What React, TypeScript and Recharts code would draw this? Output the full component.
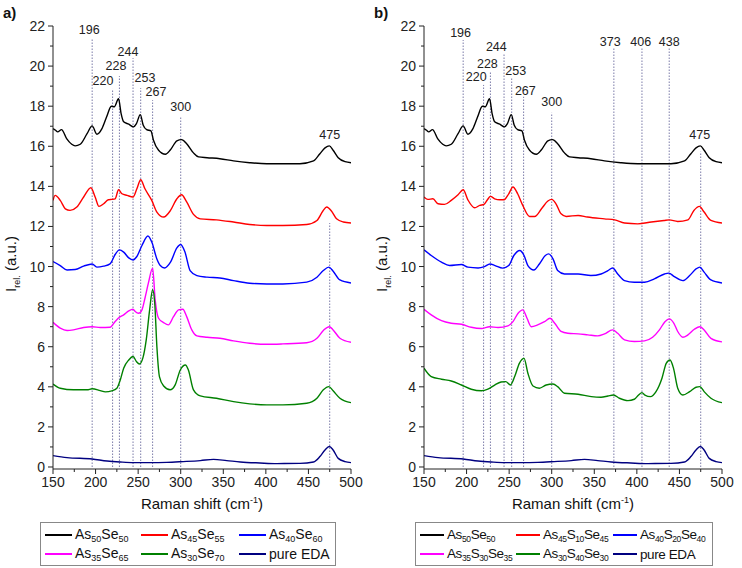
import React from "react";
import { LineChart, Line, XAxis, YAxis, ReferenceLine } from "recharts";

const FONT = '"Liberation Sans", Arial, sans-serif';
const DOT_COLOR = "#7a7aa8";

type Pt = [number, number];

// spectra: [Raman shift (cm-1), I_rel (a.u.)]
const as50se50: Pt[] = [
  [150, 16.88], [153, 16.8], [155.5, 16.72], [160, 16.83], [166, 16.38], [172, 16.1], [176, 16.02], [182, 16.1],
  [190, 16.63], [196, 17.02], [201.5, 16.6], [207.5, 16.88], [213, 17.47], [218.5, 18.0], [222, 17.97], [227, 18.37],
  [230, 17.63], [233, 17.22], [239, 17.1], [244.5, 16.97], [248, 17.13], [252.5, 17.58], [256, 17.05], [260, 16.83],
  [265, 16.77], [268, 16.3], [274, 15.8], [282, 15.6], [288, 15.83], [295.5, 16.27], [301, 16.33], [307, 16.13],
  [315, 15.67], [321, 15.47], [331, 15.43], [346, 15.38], [362, 15.27], [381, 15.18], [401, 15.13], [420, 15.13],
  [440, 15.13], [456, 15.27], [463.5, 15.63], [469.5, 15.92], [474.5, 16.02], [479, 15.8], [485, 15.43], [493, 15.23],
  [500, 15.18],
];

const as45se55: Pt[] = [
  [150, 13.3], [152.5, 13.55], [158.5, 13.3], [164.5, 12.88], [170, 12.8], [178, 12.97], [186, 13.47], [194.5, 13.93],
  [199.5, 13.47], [204, 13.0], [209.5, 13.13], [215, 13.33], [219, 13.35], [223, 13.38], [227, 13.83], [231, 13.63],
  [237, 13.55], [244, 13.47], [248.5, 13.88], [253, 14.33], [258, 13.88], [266, 13.3], [272, 12.72], [280, 12.47],
  [288, 12.8], [295.5, 13.38], [301, 13.58], [307, 13.22], [315, 12.6], [323, 12.38], [342, 12.33], [362, 12.22],
  [381, 12.1], [401, 12.05], [420, 12.05], [448, 12.1], [460, 12.3], [467, 12.77], [471.5, 12.97], [477, 12.77],
  [483, 12.38], [491, 12.22], [500, 12.17],
];

const as40se60: Pt[] = [
  [150, 10.25], [158.5, 10.05], [166.5, 9.83], [176, 9.85], [186, 10.02], [196, 10.13], [201.5, 9.97], [209.5, 10.02],
  [217, 10.13], [223, 10.6], [228, 10.83], [233, 10.72], [239, 10.43], [244, 10.33], [248.5, 10.5], [254.5, 11.05],
  [261.5, 11.52], [266, 11.22], [272, 10.38], [276, 10.05], [281, 9.93], [288, 10.22], [295.5, 10.93], [300, 11.1],
  [305, 10.72], [311, 9.8], [319, 9.55], [331, 9.47], [346, 9.43], [362, 9.3], [381, 9.17], [401, 9.13], [420, 9.13],
  [448, 9.22], [460, 9.47], [467.5, 9.8], [474, 9.97], [479, 9.77], [487, 9.33], [500, 9.18],
];

const as35se65: Pt[] = [
  [150, 7.22], [158.5, 6.93], [166.5, 6.81], [174, 6.84], [186, 6.96], [196, 7.0], [205.5, 6.96], [217, 6.97],
  [223, 7.26], [228, 7.47], [233, 7.59], [239, 7.79], [244, 7.87], [246.5, 7.76], [250.5, 7.67], [254.5, 7.84],
  [258, 8.42], [262, 9.17], [267, 9.92], [270, 8.34], [274, 7.42], [280, 7.2], [285.5, 7.09], [291.5, 7.5],
  [297.5, 7.84], [302.5, 7.87], [307, 7.5], [313, 6.84], [319, 6.54], [331, 6.47], [346, 6.42], [362, 6.29],
  [381, 6.17], [401, 6.12], [420, 6.14], [448, 6.2], [460, 6.42], [467.5, 6.81], [474.5, 7.0], [479, 6.84],
  [487, 6.42], [500, 6.22],
];

const as30se70: Pt[] = [
  [150, 4.14], [158.5, 3.93], [174, 3.85], [190, 3.85], [196, 3.9], [205.5, 3.81], [211.5, 3.75], [219, 3.8],
  [225, 3.93], [229, 4.34], [233, 4.93], [239, 5.34], [244, 5.51], [248, 5.26], [251.5, 5.14], [255.5, 5.43],
  [259.5, 6.34], [263.5, 7.84], [267, 8.84], [269.5, 8.17], [272, 6.01], [275, 4.51], [280, 4.04], [287.5, 3.85],
  [293.5, 4.1], [299.5, 4.84], [305.5, 5.09], [309, 4.84], [315, 3.85], [323, 3.55], [342, 3.43], [362, 3.26],
  [381, 3.15], [401, 3.1], [420, 3.1], [448, 3.18], [460, 3.43], [467.5, 3.85], [474, 4.01], [479, 3.8],
  [487, 3.43], [500, 3.21],
];

const pureEda: Pt[] = [
  [150, 0.57], [166.5, 0.47], [196, 0.4], [213.5, 0.3], [229, 0.25], [244.5, 0.22], [264, 0.22], [283.5, 0.23],
  [303, 0.27], [323, 0.32], [338.5, 0.38], [354, 0.32], [370, 0.25], [393, 0.2], [413, 0.17], [440, 0.18],
  [456, 0.25], [463.5, 0.52], [469.5, 0.85], [474.5, 1.02], [479, 0.85], [485, 0.43], [493, 0.27], [500, 0.22],
];

const as45s10se45: Pt[] = [
  [150, 13.47], [154.5, 13.35], [160.5, 13.38], [166.5, 13.13], [174, 13.1], [182, 13.3], [190, 13.58], [196, 13.83],
  [201.5, 13.33], [209.5, 12.93], [215.5, 13.05], [220.5, 13.1], [224.5, 13.33], [228, 13.5], [233, 13.38], [239, 13.33],
  [244, 13.33], [249.5, 13.63], [254.5, 13.97], [260, 13.63], [266, 13.05], [274, 12.5], [280, 12.5], [288, 12.88],
  [295.5, 13.27], [300, 13.35], [305, 13.13], [311, 12.63], [317, 12.5], [331, 12.55], [342, 12.47], [362, 12.38],
  [374, 12.33], [385.5, 12.17], [401, 12.13], [417, 12.22], [432, 12.3], [438, 12.33], [448, 12.25], [460, 12.33],
  [467, 12.8], [473.5, 13.0], [479, 12.72], [487, 12.3], [500, 12.17],
];

const as40s20se40: Pt[] = [
  [150, 10.83], [158.5, 10.55], [170.5, 10.22], [180, 10.05], [194, 10.1], [201.5, 9.97], [213.5, 9.93], [221, 10.0],
  [227.5, 10.13], [233.5, 10.05], [242.5, 9.92], [249.5, 10.05], [255.5, 10.55], [262.5, 10.8], [267.5, 10.55],
  [272, 10.05], [279, 9.83], [285.5, 10.13], [292.5, 10.55], [296.5, 10.63], [301.5, 10.38], [307, 9.8], [315, 9.63],
  [331, 9.63], [346, 9.55], [358, 9.63], [366, 9.8], [371.5, 9.93], [377.5, 9.63], [385.5, 9.3], [397, 9.22],
  [409, 9.22], [420.5, 9.38], [432.5, 9.63], [437.5, 9.67], [444, 9.5], [454, 9.3], [462, 9.55], [469.5, 9.88],
  [474, 9.97], [479, 9.72], [487, 9.33], [500, 9.18],
];

const as35s30se35: Pt[] = [
  [150, 7.87], [158.5, 7.59], [170.5, 7.3], [182, 7.17], [194, 7.12], [205.5, 6.97], [217.5, 6.91], [227, 7.0],
  [237, 6.96], [248.5, 7.04], [254.5, 7.25], [260.5, 7.67], [266, 7.84], [271, 7.42], [276, 7.0], [283.5, 7.09],
  [291.5, 7.25], [298, 7.42], [303.5, 7.17], [311, 6.76], [319, 6.67], [331, 6.64], [342.5, 6.59], [354, 6.54],
  [362, 6.64], [371.5, 6.84], [377.5, 6.67], [385.5, 6.34], [397, 6.26], [409, 6.29], [418.5, 6.47], [426.5, 6.84],
  [433, 7.25], [438, 7.39], [443.5, 7.17], [448, 6.76], [454, 6.47], [460, 6.59], [467.5, 6.87], [474, 7.0],
  [479, 6.84], [487, 6.42], [500, 6.24],
];

const as30s40se30: Pt[] = [
  [150, 4.93], [158.5, 4.51], [170.5, 4.38], [182, 4.29], [194, 4.09], [205.5, 3.88], [217.5, 3.8], [225, 3.88],
  [233, 4.09], [240.5, 4.24], [246, 4.26], [251.5, 4.09], [256.5, 4.51], [262, 5.17], [267.5, 5.42], [272, 4.68],
  [278, 4.04], [285.5, 3.93], [293.5, 4.09], [301.5, 4.14], [307, 4.01], [315, 3.68], [331, 3.63], [346.5, 3.51],
  [358, 3.48], [366, 3.54], [372.5, 3.59], [379.5, 3.43], [389.5, 3.31], [397, 3.38], [402, 3.59], [406, 3.71],
  [409.5, 3.59], [416, 3.51], [422.5, 3.76], [429.5, 4.43], [434.5, 5.17], [439, 5.34], [443, 4.93], [448, 3.93],
  [454, 3.59], [462, 3.76], [469.5, 3.98], [474, 4.01], [479, 3.76], [487, 3.43], [500, 3.21],
];

const xTicks = [150, 175, 200, 225, 250, 275, 300, 325, 350, 375, 400, 425, 450, 475, 500];
const yTicks = [0, 1, 2, 3, 4, 5, 6, 7, 8, 9, 10, 11, 12, 13, 14, 15, 16, 17, 18, 19, 20, 21, 22];

// peak markers: position, top of dotted line (a.u.), label offset in px from the line top
const peaksA = [196, 220, 228, 244, 253, 267, 300, 475];
const topsA = [21.35, 18.86, 19.5, 20.4, 18.9, 18.3, 17.5, 12.17];
const dxA = [-3, -9.6, -3.4, -5, 4.3, 3.4, 0, 0];
const dyA = [-5.5, -3.5, -6.5, -2.5, -6.5, -4.5, -5.5, -84.5];

const peaksB = [196, 220, 228, 244, 253, 267, 300, 373, 406, 438, 475];
const topsB = [21.3, 19.06, 19.72, 20.65, 19.44, 18.47, 17.67, 20.89, 20.89, 20.89, 15.73];
const dxB = [-2.6, -7.3, -3, -7.7, 4, 1.7, 0, -3.6, -1.3, 0, -1];
const dyB = [-3.5, -3.5, -3.9, -2.5, -2.8, -2.2, -6.5, -2.1, -2.1, -2.1, -12.9];

const COLORS = ["#000000", "#ff0000", "#0000ff", "#ff00ff", "#008000", "#000080"];

// legend names: pairs of [element, subscript]
const namesA: [string, string][][] = [
  [["As", "50"], ["Se", "50"]],
  [["As", "45"], ["Se", "55"]],
  [["As", "40"], ["Se", "60"]],
  [["As", "35"], ["Se", "65"]],
  [["As", "30"], ["Se", "70"]],
  [["pure EDA", ""]],
];
const namesB: [string, string][][] = [
  [["As", "50"], ["Se", "50"]],
  [["As", "45"], ["S", "10"], ["Se", "45"]],
  [["As", "40"], ["S", "20"], ["Se", "40"]],
  [["As", "35"], ["S", "30"], ["Se", "35"]],
  [["As", "30"], ["S", "40"], ["Se", "30"]],
  [["pure EDA", ""]],
];

const seriesA = [as50se50, as45se55, as40se60, as35se65, as30se70, pureEda];
const seriesB = [as50se50, as45s10se45, as40s20se40, as35s30se35, as30s40se30, pureEda];

const toRows = (pts: Pt[]) => pts.map(([x, y]) => ({ x, y }));

function YTick(props: any) {
  const { x, y, payload } = props;
  const major = payload.value % 2 === 0;
  return (
    <g>
      <line x1={x - (major ? 5 : 3)} x2={x} y1={y} y2={y} stroke="#222" />
      {major && (
        <text x={x - 8} y={y} dy={5} textAnchor="end" fontSize={14} fill="#222" fontFamily={FONT}>
          {payload.value}
        </text>
      )}
    </g>
  );
}

function XTick(props: any) {
  const { x, y, payload } = props;
  const major = payload.value % 50 === 0;
  return (
    <g>
      <line x1={x} x2={x} y1={y} y2={y + (major ? 5 : 3)} stroke="#222" />
      {major && (
        <text x={x} y={y} dy={18} textAnchor="middle" fontSize={14} fill="#222" fontFamily={FONT}>
          {payload.value}
        </text>
      )}
    </g>
  );
}

function peakLabel(text: string, dx: number, dy: number) {
  return (props: any) => {
    const vb = props.viewBox || props;
    return (
      <text x={vb.x + dx} y={vb.y + dy} textAnchor="middle" fontSize={12.5} fill="#222" fontFamily={FONT}>
        {text}
      </text>
    );
  };
}

function Formula({ parts, sub }: { parts: [string, string][]; sub: number }) {
  return (
    <span>
      {parts.map(([el, s], i) => (
        <React.Fragment key={i}>
          {el}
          {s && <sub style={{ fontSize: sub, verticalAlign: "-3px" }}>{s}</sub>}
        </React.Fragment>
      ))}
    </span>
  );
}

function Legend(props: {
  names: [string, string][][]; left: number; width: number; cols: number[]; font: number; sub: number;
  line: number; spacing: number;
}) {
  const { names, left, width, cols, font, sub, line, spacing } = props;
  return (
    <div
      style={{
        position: "absolute", left, top: 522, width, height: 44, border: "1px solid #888",
        boxSizing: "border-box", fontSize: font, color: "#111", letterSpacing: spacing,
      }}
    >
      {names.map((parts, i) => (
        <div
          key={i}
          style={{
            position: "absolute", left: cols[i % 3], top: i < 3 ? 3 : 22, display: "flex",
            alignItems: "center", whiteSpace: "nowrap", height: 18,
          }}
        >
          <span style={{ display: "inline-block", width: line, height: 1.5, background: COLORS[i], marginRight: 3 }} />
          <Formula parts={parts} sub={sub} />
        </div>
      ))}
    </div>
  );
}

function Panel(props: {
  left: number; tag: string; series: Pt[][]; peaks: number[]; tops: number[]; dx: number[]; dy: number[];
  names: [string, string][][]; legendLeft: number; legendWidth: number; cols: number[];
  font: number; sub: number; line: number; spacing: number;
}) {
  const { left, tag, series, peaks, tops, dx, dy } = props;
  return (
    <div style={{ position: "absolute", left, top: 0, width: 371, height: 568 }}>
      <LineChart width={371} height={500} margin={{ top: 26, right: 20, bottom: 6, left: 13 }}>
        <XAxis
          type="number" dataKey="x" domain={[150, 500]} ticks={xTicks} tick={<XTick />} tickLine={false}
          tickSize={0} tickMargin={0} height={25} stroke="#222" allowDataOverflow interval={0}
        />
        <YAxis
          type="number" domain={[-0.1, 22]} ticks={yTicks} tick={<YTick />} tickLine={false}
          tickSize={0} tickMargin={0} width={40} stroke="#222" allowDataOverflow interval={0}
        />
        {peaks.map((p, i) => (
          <ReferenceLine
            key={p}
            segment={[{ x: p, y: 0 }, { x: p, y: tops[i] }]}
            stroke={DOT_COLOR}
            strokeDasharray="1.5 1.5"
            label={peakLabel(String(p), dx[i], dy[i])}
          />
        ))}
        {series.map((s, i) => (
          <Line
            key={i}
            data={toRows(s)}
            dataKey="y"
            type="monotone"
            stroke={COLORS[i]}
            strokeWidth={1.4}
            dot={false}
            isAnimationActive={false}
          />
        ))}
      </LineChart>
      <div style={{ position: "absolute", left: 3, top: 4, fontSize: 15, fontWeight: "bold" }}>{tag}</div>
      <div
        style={{
          position: "absolute", left: 12, top: 264, transform: "translate(-50%, -50%) rotate(-90deg)",
          fontSize: 15, whiteSpace: "nowrap",
        }}
      >
        I<sub style={{ fontSize: 9 }}>rel.</sub> (a.u.)
      </div>
      <div
        style={{
          position: "absolute", left: 202, top: 503, transform: "translate(-50%, -50%)", fontSize: 15,
          whiteSpace: "nowrap",
        }}
      >
        Raman shift (cm<sup style={{ fontSize: 9 }}>-1</sup>)
      </div>
      <Legend
        names={props.names} left={props.legendLeft} width={props.legendWidth} cols={props.cols}
        font={props.font} sub={props.sub} line={props.line} spacing={props.spacing}
      />
    </div>
  );
}

export default function App() {
  return (
    <div
      style={{
        position: "absolute", left: 0, top: 0, width: 742, height: 568, background: "#fff",
        fontFamily: FONT, color: "#111", overflow: "hidden",
      }}
    >
      <Panel
        left={0} tag="a)" series={seriesA} peaks={peaksA} tops={topsA} dx={dxA} dy={dyA}
        names={namesA} legendLeft={40} legendWidth={296} cols={[4, 100, 198]} font={14} sub={9} line={27}
        spacing={0}
      />
      <Panel
        left={371} tag="b)" series={seriesB} peaks={peaksB} tops={topsB} dx={dxB} dy={dyB}
        names={namesB} legendLeft={44} legendWidth={298} cols={[4, 100, 197]} font={13.5} sub={8.5} line={24}
        spacing={-0.4}
      />
    </div>
  );
}
